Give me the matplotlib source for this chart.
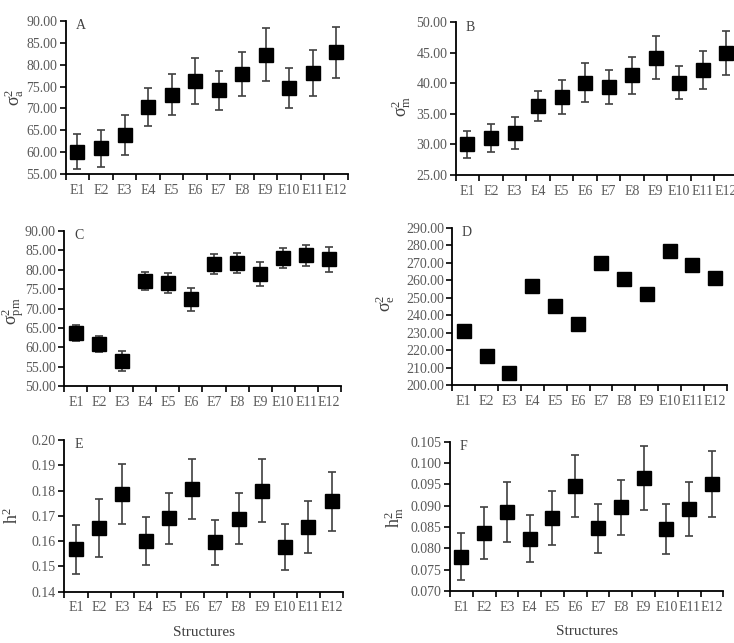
import matplotlib
matplotlib.use("Agg")
import matplotlib.pyplot as plt
from matplotlib.ticker import FixedLocator, NullFormatter

plt.rcParams['font.family'] = ['Liberation Serif', 'DejaVu Serif']
plt.rcParams['mathtext.fontset'] = 'custom'
plt.rcParams['mathtext.rm'] = 'Liberation Serif'
plt.rcParams['mathtext.it'] = 'Liberation Serif'

structures = ["E1", "E2", "E3", "E4", "E5", "E6", "E7", "E8", "E9", "E10", "E11", "E12"]

# Panel A: additive variance
a_vals = [60.1, 60.9, 63.9, 70.3, 73.1, 76.3, 74.1, 77.85, 82.25, 74.7, 78.15, 82.8]
a_err = [4.0, 4.3, 4.6, 4.35, 4.7, 5.2, 4.5, 4.95, 6.1, 4.55, 5.2, 5.85]
# Panel B: maternal variance
b_vals = [30.0, 31.0, 31.9, 36.3, 37.8, 40.1, 39.4, 41.3, 44.2, 40.1, 42.2, 44.9]
b_err = [2.2, 2.3, 2.6, 2.45, 2.8, 3.2, 2.75, 3.0, 3.5, 2.7, 3.1, 3.6]
# Panel C: permanent maternal variance
c_vals = [63.6, 60.8, 56.5, 77.1, 76.6, 72.4, 81.4, 81.8, 79.0, 83.1, 83.7, 82.7]
c_err = [2.1, 2.15, 2.5, 2.3, 2.6, 3.0, 2.55, 2.65, 3.1, 2.55, 2.8, 3.3]
# Panel D: residual variance
d_vals = [231.1, 216.8, 206.9, 256.4, 245.4, 234.7, 269.8, 260.4, 251.9, 276.6, 268.6, 261.5]
d_err = [1.2, 1.3, 1.3, 1.4, 1.6, 2.2, 1.6, 1.8, 2.6, 1.5, 1.8, 2.2]
# Panel E: heritability
e_vals = [0.1567, 0.1652, 0.1786, 0.1600, 0.1690, 0.1806, 0.1595, 0.1688, 0.1800, 0.1576, 0.1656, 0.1757]
e_err = [0.0098, 0.0113, 0.0120, 0.0094, 0.0102, 0.0117, 0.0090, 0.0101, 0.0125, 0.0092, 0.0104, 0.0118]
# Panel F: maternal heritability
f_vals = [0.0780, 0.0836, 0.0885, 0.0823, 0.0872, 0.0946, 0.0847, 0.0896, 0.0965, 0.0845, 0.0893, 0.0951]
f_err = [0.0055, 0.0062, 0.0071, 0.0055, 0.0063, 0.0073, 0.0058, 0.0065, 0.0075, 0.0058, 0.0063, 0.0077]

W, H = 734, 643
fig = plt.figure(figsize=(W / 100, H / 100), dpi=100)


def pix_axes(l, r, t, b):
    return fig.add_axes([l / W, 1 - b / H, (r - l) / W, (b - t) / H])


panels = [
    dict(box=(65.7, 348, 20.7, 174.3), vals=a_vals, err=a_err, letter="A",
         ylim=(55, 90), yt=[55, 60, 65, 70, 75, 80, 85, 90], fmt="{:.2f}",
         ylabel=r"$\mathregular{\sigma^2_{a}}$", lab=(-0.142, 0.5), xlabel=None),
    dict(box=(455.7, 738, 22.3, 175), vals=b_vals, err=b_err, letter="B",
         ylim=(25, 50), yt=[25, 30, 35, 40, 45, 50], fmt="{:.2f}",
         ylabel=r"$\mathregular{\sigma^2_{m}}$", lab=(-0.150, 0.45), xlabel=None),
    dict(box=(64.3, 340.7, 231, 386), vals=c_vals, err=c_err, letter="C",
         ylim=(50, 90), yt=[50, 55, 60, 65, 70, 75, 80, 85, 90], fmt="{:.2f}",
         ylabel=r"$\mathregular{\sigma^2_{pm}}$", lab=(-0.136, 0.48), xlabel=None),
    dict(box=(452.3, 726.7, 227.7, 385), vals=d_vals, err=d_err, letter="D",
         ylim=(200, 290), yt=[200, 210, 220, 230, 240, 250, 260, 270, 280, 290], fmt="{:.2f}",
         ylabel=r"$\mathregular{\sigma^2_{e}}$", lab=(-0.200, 0.52), xlabel=None),
    dict(box=(64.3, 343.3, 440, 591.7), vals=e_vals, err=e_err, letter="E",
         ylim=(0.14, 0.20), yt=[0.14, 0.15, 0.16, 0.17, 0.18, 0.19, 0.20], fmt="{:.2f}",
         ylabel=r"$\mathregular{h^2}$", lab=(-0.150, 0.5), xlabel="Structures"),
    dict(box=(450, 723.3, 441.7, 591), vals=f_vals, err=f_err, letter="F",
         ylim=(0.070, 0.105), yt=[0.070, 0.075, 0.080, 0.085, 0.090, 0.095, 0.100, 0.105], fmt="{:.3f}",
         ylabel=r"$\mathregular{h^2_{m}}$", lab=(-0.160, 0.49), xlabel="Structures"),
]

grey = "#595959"
for p in panels:
    ax = pix_axes(*p["box"])
    x = list(range(1, len(structures) + 1))
    ax.errorbar(x, p["vals"], yerr=p["err"], fmt="s", color="black", ms=9.5,
                ecolor="#404040", elinewidth=1.2, capsize=3, capthick=1.2, zorder=3)
    ax.set_xlim(0.5, len(structures) + 0.5)
    ax.set_ylim(*p["ylim"])
    ax.set_yticks(p["yt"])
    ax.set_yticklabels([p["fmt"].format(v) for v in p["yt"]])
    ax.xaxis.set_major_locator(FixedLocator([i + 0.5 for i in range(0, len(structures) + 1)]))
    ax.xaxis.set_major_formatter(NullFormatter())
    ax.xaxis.set_minor_locator(FixedLocator(x))
    ax.set_xticklabels(structures, minor=True)
    ax.tick_params(axis="x", which="major", direction="out", length=4, width=1.2, color="black")
    ax.tick_params(axis="x", which="minor", length=0, pad=7, labelsize=10, labelcolor=grey)
    ax.tick_params(axis="y", direction="out", length=4, width=1.2, color="black",
                   labelsize=10, labelcolor=grey, pad=2)
    for s in ("top", "right"):
        ax.spines[s].set_visible(False)
    for s in ("left", "bottom"):
        ax.spines[s].set_linewidth(1.3)
    ax.text(0.035, 1.01, p["letter"], transform=ax.transAxes, ha="left", va="top",
            fontsize=10, color="#404040")
    ax.set_ylabel(p["ylabel"], fontsize=13, color="#404040")
    ax.yaxis.set_label_coords(*p["lab"])
    if p["xlabel"]:
        ax.set_xlabel(p["xlabel"], fontsize=11, color="#404040", labelpad=8)

fig.savefig("out.png", dpi=100)
